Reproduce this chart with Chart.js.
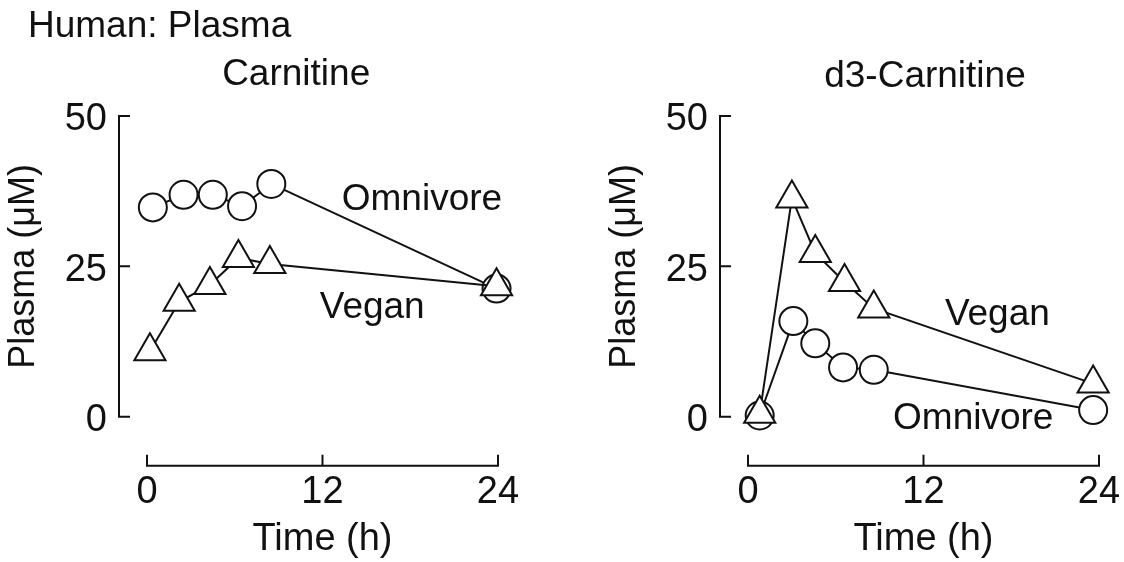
<!DOCTYPE html>
<html>
<head>
<meta charset="utf-8">
<script src="https://cdn.jsdelivr.net/npm/chart.js@4.4.1/dist/chart.umd.min.js"></script>
<style>
  body { margin: 0; background: #fff; }
  #wrap { position: relative; width: 1124px; height: 562px; }
  canvas { position: absolute; left: 0; top: 0; }
</style>
</head>
<body>
<div id="wrap">
  <canvas id="chart1" width="1124" height="562"></canvas>
  <canvas id="chart2" width="1124" height="562"></canvas>
</div>
<script>
// Carnitine panel: time (h) and plasma (uM)
const carnTimeOmni = [0.4, 2.5, 4.5, 6.5, 8.5, 23.9];
const carnOmni = [34.8, 36.9, 36.9, 35.0, 38.7, 21.3];
const carnTimeVegan = [0.2, 2.2, 4.3, 6.25, 8.4, 23.9];
const carnVegan = [10.9, 19.1, 21.9, 26.4, 25.4, 21.7];

// d3-Carnitine panel
const d3TimeOmni = [0.8, 3.1, 4.6, 6.5, 8.6, 23.6];
const d3Omni = [0.2, 15.9, 12.2, 8.2, 7.8, 1.1];
const d3TimeVegan = [0.8, 3.0, 4.6, 6.6, 8.6, 23.6];
const d3Vegan = [0.5, 36.3, 27.2, 22.4, 18.0, 5.5];

const xTicks = [0, 12, 24];
const yTicks = [0, 25, 50];

const FONT = "'Liberation Sans', Arial, sans-serif";
const INK = '#111';

function points(xs, ys) {
    return xs.map((x, i) => ({x: x, y: ys[i]}));
}

// axis lines sit apart from the plot area, ticks point inward
const axesPlugin = {
    id: 'detachedAxes',
    afterDraw(chart) {
        const ctx = chart.ctx;
        const xs = chart.scales.x;
        const ys = chart.scales.y;
        const area = chart.chartArea;
        const ax = area.left - 28;
        const ay = area.bottom + 49;
        const top = ys.getPixelForValue(yTicks[yTicks.length - 1]);
        const bot = ys.getPixelForValue(yTicks[0]);
        const x0 = xs.getPixelForValue(xTicks[0]);
        const x1 = xs.getPixelForValue(xTicks[xTicks.length - 1]);

        ctx.save();
        ctx.strokeStyle = INK;
        ctx.lineWidth = 2;
        ctx.lineJoin = 'miter';

        ctx.beginPath();
        ctx.moveTo(ax + 11, top);
        ctx.lineTo(ax, top);
        ctx.lineTo(ax, bot);
        ctx.lineTo(ax + 11, bot);
        yTicks.slice(1, -1).forEach(v => {
            const p = ys.getPixelForValue(v);
            ctx.moveTo(ax, p);
            ctx.lineTo(ax + 11, p);
        });
        ctx.stroke();

        ctx.beginPath();
        ctx.moveTo(x0, ay - 11);
        ctx.lineTo(x0, ay);
        ctx.lineTo(x1, ay);
        ctx.lineTo(x1, ay - 11);
        xTicks.slice(1, -1).forEach(v => {
            const p = xs.getPixelForValue(v);
            ctx.moveTo(p, ay);
            ctx.lineTo(p, ay - 11);
        });
        ctx.stroke();
        ctx.restore();
    }
};

// panel titles and series names, anchored in data units
const textPlugin = {
    id: 'textLabels',
    afterDatasetsDraw(chart, args, opts) {
        const ctx = chart.ctx;
        ctx.save();
        ctx.fillStyle = INK;
        ctx.textBaseline = 'alphabetic';
        (opts.items || []).forEach(it => {
            ctx.font = it.size + 'px ' + FONT;
            ctx.textAlign = 'center';
            ctx.fillText(it.text, chart.scales.x.getPixelForValue(it.x), chart.scales.y.getPixelForValue(it.y));
        });
        if (opts.header) {
            ctx.font = opts.header.size + 'px ' + FONT;
            ctx.textAlign = 'left';
            ctx.fillText(opts.header.text, opts.header.left, opts.header.baseline);
        }
        ctx.restore();
    }
};

function dataset(label, xs, ys, style, r) {
    return {
        label: label,
        data: points(xs, ys),
        borderColor: INK,
        borderWidth: 2,
        tension: 0,
        fill: false,
        clip: false,
        pointStyle: style,
        pointRadius: r,
        pointBorderWidth: 2,
        pointBorderColor: INK,
        pointBackgroundColor: '#fff'
    };
}

function makeChart(id, pad, datasets, labelOpts) {
    return new Chart(document.getElementById(id).getContext('2d'), {
        type: 'line',
        data: { datasets: datasets },
        options: {
            responsive: false,
            animation: false,
            devicePixelRatio: 1,
            layout: { padding: pad },
            plugins: {
                legend: { display: false },
                tooltip: { enabled: false },
                textLabels: labelOpts
            },
            scales: {
                x: {
                    type: 'linear',
                    min: xTicks[0],
                    max: xTicks[xTicks.length - 1],
                    afterBuildTicks: s => { s.ticks = xTicks.map(v => ({value: v})); },
                    afterFit: s => { s.height = 145.3; },
                    // tick marks are hidden, their length only pushes the labels down
                    grid: { display: false, drawTicks: true, tickLength: 53 },
                    border: { display: false },
                    ticks: { font: { family: FONT, size: 38 }, color: INK, padding: 0, maxRotation: 0 },
                    title: { display: true, text: 'Time (h)', color: INK,
                             font: { family: FONT, size: 38 }, padding: { top: 0, bottom: 0 } }
                },
                y: {
                    min: yTicks[0],
                    max: yTicks[yTicks.length - 1],
                    afterBuildTicks: s => { s.ticks = yTicks.map(v => ({value: v})); },
                    afterFit: s => { s.width = 147; },
                    grid: { display: false, drawTicks: false },
                    border: { display: false },
                    ticks: { font: { family: FONT, size: 38 }, color: INK, padding: 40, labelOffset: 4 },
                    title: { display: true, text: 'Plasma (\u03bcM)', color: INK,
                             font: { family: FONT, size: 36 }, padding: { top: 2, bottom: 0 } }
                }
            }
        },
        plugins: [axesPlugin, textPlugin]
    });
}

// vegan first so its triangles land on top of the circles
chart1 = makeChart('chart1', { left: 0, top: 116, right: 626, bottom: 0 }, [
    dataset('Vegan', carnTimeVegan, carnVegan, 'triangle', 18),
    dataset('Omnivore', carnTimeOmni, carnOmni, 'circle', 14)
], {
    header: { text: 'Human: Plasma', size: 37, left: 28, baseline: 37 },
    items: [
        { text: 'Carnitine', size: 37, x: 10.2, y: 55.2 },
        { text: 'Omnivore', size: 37, x: 18.8, y: 34.4 },
        { text: 'Vegan', size: 37, x: 15.4, y: 16.4 }
    ]
});

chart2 = makeChart('chart2', { left: 601, top: 116, right: 25, bottom: 0 }, [
    dataset('Vegan', d3TimeVegan, d3Vegan, 'triangle', 18),
    dataset('Omnivore', d3TimeOmni, d3Omni, 'circle', 14)
], {
    items: [
        { text: 'd3-Carnitine', size: 37, x: 12.1, y: 54.9 },
        { text: 'Vegan', size: 37, x: 17.05, y: 15.2 },
        { text: 'Omnivore', size: 37, x: 15.4, y: -2.05 }
    ]
});
</script>
</body>
</html>
